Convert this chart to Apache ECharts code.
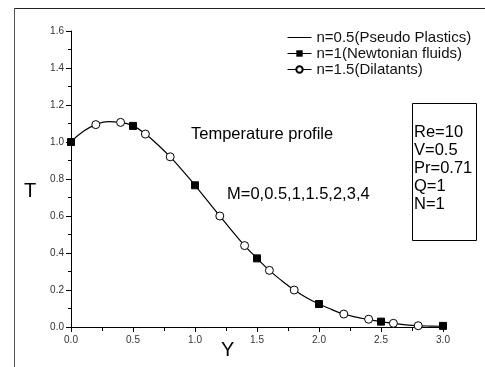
<!DOCTYPE html>
<html>
<head>
<meta charset="utf-8">
<script src="https://cdn.jsdelivr.net/npm/echarts@6/dist/echarts.min.js"></script>
<style>
  html, body { margin: 0; padding: 0; background: #fff; }
  #chart { width: 485px; height: 367px; }
</style>
</head>
<body>
<div id="chart"></div>
<script>
// curve n=0.5, read every 0.1 along Y
const lineY = [0, 0.1, 0.2, 0.3, 0.4, 0.5, 0.6, 0.7, 0.8, 0.9, 1.0, 1.1, 1.2, 1.3, 1.4, 1.5,
  1.6, 1.7, 1.8, 1.9, 2.0, 2.1, 2.2, 2.3, 2.4, 2.5, 2.6, 2.7, 2.8, 2.9, 3.0]
const lineT = [1.0, 1.058, 1.094, 1.11, 1.106, 1.087, 1.043, 0.985, 0.92, 0.845, 0.766, 0.683,
  0.6, 0.518, 0.44, 0.371, 0.306, 0.25, 0.2, 0.158, 0.124, 0.095, 0.07, 0.053, 0.04, 0.029,
  0.02, 0.012, 0.007, 0.005, 0.004]

// n=1 squares
const squareY = [0, 0.5, 1.0, 1.5, 2.0, 2.5, 3.0]
const squareT = [1.0, 1.087, 0.766, 0.371, 0.124, 0.029, 0.006]

// n=1.5 open circles
const circleY = [0.2, 0.4, 0.6, 0.8, 1.2, 1.4, 1.6, 1.8, 2.2, 2.4, 2.6, 2.8]
const circleT = [1.094, 1.106, 1.043, 0.92, 0.6, 0.44, 0.306, 0.2, 0.07, 0.042, 0.02, 0.007]

const seriesNames = ['n=0.5(Pseudo Plastics)', 'n=1(Newtonian fluids)', 'n=1.5(Dilatants)']
const paramLines = ['Re=10', 'V=0.5', 'Pr=0.71', 'Q=1', 'N=1']

const font = '"Liberation Sans", Arial, sans-serif'
const pairs = (xs, ys) => xs.map((x, i) => [x, ys[i]])
const legendLine = { color: '#000', width: 1, opacity: 1 }

const chart = echarts.init(document.getElementById('chart'))
chart.setOption({
  animation: false,
  textStyle: { fontFamily: font },
  grid: { left: 71, right: 42, top: 31, bottom: 40 },
  legend: {
    orient: 'vertical',
    left: 282,
    top: 25,
    itemWidth: 24,
    itemHeight: 8,
    itemGap: 1,
    textStyle: { fontFamily: font, fontSize: 15, color: '#111' },
    data: [
      { name: seriesNames[0], lineStyle: legendLine, itemStyle: { opacity: 0 } },
      { name: seriesNames[1], lineStyle: legendLine },
      { name: seriesNames[2], lineStyle: legendLine }
    ]
  },
  xAxis: {
    type: 'value',
    min: 0,
    max: 3,
    interval: 0.5,
    axisLine: { lineStyle: { color: '#000', width: 1 } },
    axisTick: { show: true, length: 5, lineStyle: { color: '#000' } },
    minorTick: { show: true, splitNumber: 2, length: 4, lineStyle: { color: '#000' } },
    splitLine: { show: false },
    axisLabel: { fontSize: 10, color: '#333', margin: 8, formatter: v => v.toFixed(1) }
  },
  yAxis: {
    type: 'value',
    min: 0,
    max: 1.6,
    interval: 0.2,
    axisLine: { show: true, lineStyle: { color: '#000', width: 1 } },
    axisTick: { show: true, length: 5, lineStyle: { color: '#000' } },
    minorTick: { show: true, splitNumber: 2, length: 3, lineStyle: { color: '#000' } },
    splitLine: { show: false },
    axisLabel: { fontSize: 10, color: '#333', margin: 7, formatter: v => v.toFixed(1) }
  },
  series: [
    {
      name: seriesNames[0],
      type: 'line',
      smooth: true,
      symbol: 'none',
      data: pairs(lineY, lineT),
      lineStyle: { color: '#000', width: 1.2 },
      itemStyle: { color: '#000' },
      z: 2
    },
    {
      // markers sit on the same curve; their own connecting line is hidden
      name: seriesNames[1],
      type: 'line',
      symbol: 'rect',
      symbolSize: 7,
      data: pairs(squareY, squareT),
      lineStyle: { color: '#000', width: 1, opacity: 0 },
      itemStyle: { color: '#000', borderColor: '#000' },
      z: 3
    },
    {
      name: seriesNames[2],
      type: 'line',
      symbol: 'circle',
      symbolSize: 8,
      data: pairs(circleY, circleT),
      lineStyle: { color: '#000', width: 1, opacity: 0 },
      itemStyle: { color: '#fff', borderColor: '#000', borderWidth: 1 },
      z: 3
    }
  ],
  graphic: [
    // outer frame (top + left edges)
    { type: 'line', shape: { x1: 14, y1: 8.5, x2: 485, y2: 8.5 }, style: { stroke: '#222', lineWidth: 1 } },
    { type: 'line', shape: { x1: 14.5, y1: 8, x2: 14.5, y2: 367 }, style: { stroke: '#555', lineWidth: 1 } },
    // parameter box
    { type: 'rect', shape: { x: 412.5, y: 103.5, width: 64, height: 137 }, style: { fill: 'none', stroke: '#000', lineWidth: 1 } },
    {
      type: 'text', left: 414, top: 123,
      style: { text: paramLines.join('\n'), font: '16.5px ' + font, lineHeight: 18, fill: '#000' }
    },
    { type: 'text', left: 191, top: 126, style: { text: 'Temperature profile', font: '16.5px ' + font, fill: '#000' } },
    { type: 'text', left: 227, top: 186, style: { text: 'M=0,0.5,1,1.5,2,3,4', font: '16.5px ' + font, fill: '#000' } },
    { type: 'text', left: 24, top: 181, style: { text: 'T', font: '20px ' + font, fill: '#000' } },
    { type: 'text', left: 221, top: 340, style: { text: 'Y', font: '20px ' + font, fill: '#000' } }
  ]
})
</script>
</body>
</html>
